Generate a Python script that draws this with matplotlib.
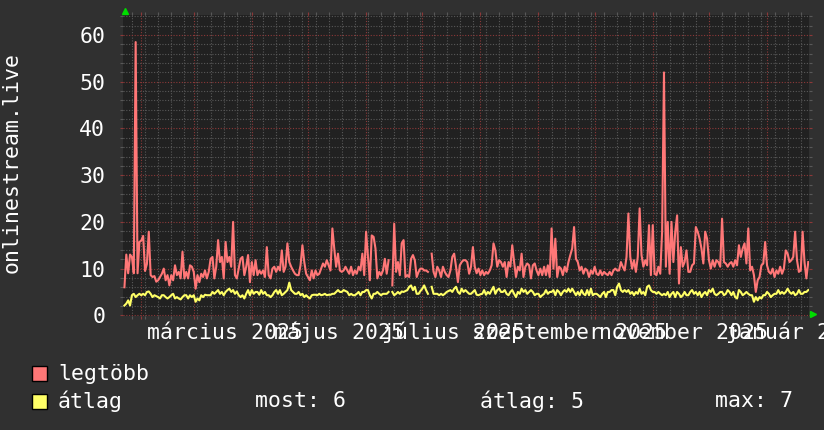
import numpy as np
import pandas as pd
import matplotlib
matplotlib.use("Agg")
import matplotlib.pyplot as plt
import matplotlib.dates as mdates
from matplotlib.transforms import blended_transform_factory
from matplotlib.patches import Rectangle

nan = np.nan

# daily values, starting 2025-01-23
start_date = "2025-01-23"
legtobb = [
    6, 13, 9, 13, 12.5, 9, 58.5, 9, 15.7, 16,
    17, 9.5, 11, 17.9, 8.6, 8.2, 8.4, 7.2, 7.5, 8.2,
    8.9, 10, 7.5, 8.6, 6.4, 8.6, 7.5, 10.7, 8.6, 9.3,
    7.9, 13.6, 7.9, 9.3, 7.9, 10.7, 10.4, 9.3, 5.7, 8.6,
    7.1, 8.9, 8.2, 9.6, 7.9, 9.3, 12.1, 12.5, 7.9, 10.4,
    16.1, 11.4, 12.5, 7.9, 15.7, 11.4, 12.5, 10.4, 20, 8.6,
    7.9, 10, 12.1, 12.5, 8.6, 10.4, 12.9, 7.1, 11.4, 8.6,
    11.8, 8.6, 9.6, 8.9, 9.6, 8.2, 14.6, 8.6, 7.9, 10,
    10.4, 9.3, 10.4, 9.6, 13.9, 9.3, 10.4, 15.4, 11.4, 10.4,
    9.6, 8.9, 8.6, 8.6, 10.7, 15, 11.4, 8.9, 8.2, 7.5,
    9.6, 7.9, 9.6, 8.6, 8.9, 10, 11.1, 10.4, 11.8, 10.7,
    9.6, 18.6, 14.3, 10.4, 13.2, 9.6, 9.3, 9.6, 10.4, 9.6,
    8.9, 10.4, 8.6, 9.6, 8.9, 10.4, 9.6, 13.2, 8.6, 17.9,
    12.5, 7.5, 17.1, 16.8, 14.3, 7.9, 9.3, 8.6, 9.6, 12.1,
    8.9, 11.8, nan, 6.4, 19.6, 9.3, 11.4, 8.6, 15.4, 16.1,
    8.2, 8.6, 8.2, 12.1, 12.9, 11.8, 8.2, 9.3, 10, 10,
    9.6, 9.6, 9.3, nan, 13.2, 9.3, 8.2, 10.4, 9.6, 8.2,
    10.4, 9.3, 8.6, 8.2, 9.6, 12.5, 13.2, 10.4, 7.1, 10.7,
    11.4, 11.8,
    11.8, 11.4, 8.9, 10.4, 14.6, 10.4, 9, 10, 8.6, 9.6,
    8.6, 9.3, 8.9, 9.6, 10.7, 15.4, 13.9, 10.4, 11.8, 11.4,
    10.4, 11.4, 8.2, 11.4, 10.4, 15, 11.4, 8.2, 10.4, 9.6,
    13.2, 8.2, 10.4, 11.1, 10.7, 7.9, 10.7, 11.1, 9.6, 8.6,
    10, 8.6, 10.4, 8.6, 10.7, 8.2, 18.6, 10, 16.4, 8.2,
    10.4, 10, 8.6, 10.4, 9.3, 11.4, 12.9, 14.3, 18.9, 12.1,
    11.4, 9.6, 10.4, 8.9, 10, 9.6, 8.2, 9.6, 8.9, 10.4,
    8.9, 8.6, 9.6, 8.6, 9.3, 8.9, 8.6, 9.3, 8.6, 9.6,
    10, 9.6, 9.6, 11.4, 10.4, 9.6, 12.5, 21.8, 12.5, 10,
    11.8, 9.3, 12.5, 22.9, 12.9, 10.4, 11.8, 10.7, 19.3, 8.6,
    19.3, 8.9, 8.6, 10.4, 8.9, 17.9, 52, 10.4, 20, 8.9,
    20, 11.4, 17.9, 21.4, 6.8, 14.6, 10.4, 11.4, 13.9, 9.3,
    9.3, 10.7, 11.1, 18.9, 17.9, 16.4, 14.3, 11.1, 17.9, 16.4,
    11.8, 10, 11.8, 10.4, 11.8, 11.4, 10.4, 20.7, 11.4, 11.1,
    10.4, 11.1, 11.4, 10.4, 11.8, 10.7, 15, 12.5, 14.3, 15.4,
    11.1, 18.6, 9.6, 10.4, 8.6, 5, 7.5, 8.2, 10.7, 11.1,
    15.7, 10.7, 9.3, 8.9, 10, 8.2, 9.6, 8.9, 10.4, 8.9,
    10, 13.9, 13.2, 11.4, 11.8, 12.5, 17.9, 11.8, 9.3, 9.6,
    17.9, 11.4, 7.9, 11.4,
]
atlag = [
    2.1, 2.5, 3.2, 2.1, 4.3, 4.6, 3.9, 4.3, 4.6, 4.3,
    4.6, 4.3, 5.0, 5.1, 4.6, 3.9, 4.3, 4.1, 3.9, 3.6,
    4.3, 4.3, 3.9, 3.6, 3.9, 4.3, 4.6, 3.6, 3.9, 3.6,
    3.4, 3.9, 4.3, 4.3, 3.6, 4.3, 3.9, 4.3, 2.9, 3.6,
    3.2, 4.3, 3.9, 4.4, 4.3, 4.3, 4.3, 5.0, 4.6, 5.0,
    5.4, 4.6, 5.0, 4.3, 5.0, 5.4, 5.7, 5.0, 5.4, 4.6,
    5.1, 4.3, 3.9, 4.3, 3.6, 4.6, 5.4, 4.3, 5.4, 4.6,
    5.0, 5.0, 4.4, 5.4, 4.6, 5.0, 4.3, 4.3, 3.9, 4.3,
    5.0, 5.4, 4.6, 5.4, 4.3, 4.6, 5.0, 5.4, 7.0, 5.4,
    5.0, 4.6, 4.6, 5.0, 4.3, 4.6, 3.9, 4.3, 3.9, 3.6,
    4.3, 4.4, 4.4, 4.3, 4.6, 4.3, 4.4, 4.6, 4.3, 4.4,
    4.4, 4.6, 4.6, 5.0, 5.4, 5.0, 5.0, 5.4, 5.2, 5.0,
    4.3, 4.6, 4.3, 4.3, 4.6, 5.0, 4.3, 5.0, 5.0, 5.4,
    5.4, 4.3, 3.6, 4.6, 4.6, 5.0, 4.6, 4.3, 4.6, 4.6,
    4.6, 5.0, nan, 5.0, 4.3, 4.6, 5.0, 4.6, 5.1, 5.0,
    5.2, 5.4, 6.1, 6.4, 5.4, 6.1, 4.6, 4.6, 5.2, 5.7,
    6.4, 5.4, 4.6, nan, 6.1, 4.6, 4.6, 4.6, 4.3, 4.6,
    4.3, 4.6, 5.0, 5.2, 5.4, 5.0, 5.7, 6.1, 5.0, 4.6,
    5.7, 5.0,
    5.4, 5.0, 4.6, 4.6, 5.0, 5.4, 4.4, 4.3, 4.5, 4.6,
    5.4, 4.4, 5.0, 4.6, 5.4, 6.1, 4.6, 5.4, 5.7, 5.0,
    5.0, 5.4, 4.6, 4.3, 5.0, 5.4, 4.6, 3.9, 5.0, 4.6,
    5.7, 5.0, 5.4, 4.6, 5.0, 5.4, 5.0, 4.3, 4.6, 4.6,
    3.9, 4.3, 4.6, 5.4, 4.6, 5.0, 5.0, 5.4, 4.3, 5.4,
    5.0, 4.3, 5.0, 5.4, 5.0, 5.7, 5.0, 5.7, 5.0, 4.3,
    5.0, 4.3, 5.4, 4.6, 4.3, 5.4, 4.3, 5.7, 4.3, 4.6,
    4.6, 4.3, 3.9, 4.6, 5.0, 3.9, 5.0, 5.0, 5.4, 5.4,
    4.3, 6.1, 6.8, 5.4, 5.0, 5.4, 5.0, 5.4, 4.6, 5.0,
    4.3, 5.0, 4.6, 5.7, 4.6, 5.0, 4.3, 6.1, 6.4, 5.4,
    5.0, 5.0, 4.6, 5.0, 4.6, 4.3, 4.6, 4.3, 5.0, 3.9,
    4.6, 5.0, 3.9, 5.0, 4.6, 3.9, 4.3, 5.0, 4.3, 4.3,
    5.0, 5.4, 4.6, 5.0, 4.3, 5.0, 3.9, 4.6, 5.0, 4.3,
    5.4, 5.0, 5.7, 4.6, 4.3, 4.6, 5.0, 5.0, 4.3, 4.6,
    5.4, 5.0, 4.3, 5.0, 3.9, 3.6, 5.4, 5.0, 4.3, 4.6,
    5.0, 4.6, 4.3, 4.3, 2.9, 3.9, 3.2, 3.9, 3.6, 4.3,
    4.3, 5.0, 4.6, 3.9, 4.3, 4.6, 4.6, 5.4, 4.6, 5.0,
    4.6, 5.0, 5.7, 5.0, 4.6, 5.0, 4.3, 4.6, 5.4, 4.6,
    4.6, 5.0, 5.0, 5.4,
]

month_labels = ["március 2025", "május 2025", "július 2025",
                "szeptember 2025", "november 2025", "január 2026"]
label_months = ["2025-03-01", "2025-05-01", "2025-07-01",
                "2025-09-01", "2025-11-01", "2026-01-01"]
legend_names = ["legtöbb", "átlag"]
stats = ["most: 6", "átlag: 5", "max: 7"]

bg = "#303030"
plot_bg = "#212121"
red = "#ff7777"
yellow = "#ffff66"
fs = 15.5

plt.rcParams["font.family"] = ["DejaVu Sans Mono"]

days = pd.date_range(start_date, periods=len(legtobb), freq="D")

fig = plt.figure(figsize=(8.24, 4.30), dpi=100, facecolor=bg)
ax = fig.add_axes([123.3 / 824, 1 - 316 / 430, (809 - 123.3) / 824, 301 / 430])
ax.set_facecolor(plot_bg)

ax.plot(days, legtobb, color=red, lw=1.5, zorder=3)
ax.plot(days, atlag, color=yellow, lw=1.5, zorder=4)

ax.set_xlim(pd.Timestamp(start_date) - pd.Timedelta(days=0.6),
            pd.Timestamp(start_date) + pd.Timedelta(days=365.4))
ax.set_ylim(-0.15, 64.3)

ax.xaxis.set_major_locator(mdates.MonthLocator())
ax.xaxis.set_minor_locator(mdates.WeekdayLocator(byweekday=mdates.MO))
ax.yaxis.set_major_locator(plt.MultipleLocator(10))
ax.yaxis.set_minor_locator(plt.MultipleLocator(2))

ax.set_axisbelow(True)
ax.grid(which="minor", color="#585858", lw=0.8, ls=(0, (1, 1.5)))
ax.grid(which="major", color="#8c3838", lw=0.8, ls=(0, (1, 1.5)))

ax.tick_params(which="minor", length=2, width=0.8, color="#585858",
               direction="out", top=True, right=True)
ax.tick_params(which="major", length=2, width=0.8, color="#8c3838",
               direction="out", top=True, right=True)
ax.tick_params(axis="x", which="both", labelbottom=False)
ax.tick_params(axis="y", which="major", labelsize=fs, labelcolor="white", pad=11)
for s in ax.spines.values():
    s.set_visible(False)

trans = blended_transform_factory(ax.transData, ax.transAxes)
for lab, m in zip(month_labels, label_months):
    ax.text(pd.Timestamp(m) + pd.Timedelta(days=16.5), -0.0764, lab,
            transform=trans, ha="center", va="baseline", fontsize=fs,
            color="white", clip_on=False)

# green arrows at the axis ends
ax.plot([0.002], [1.014], marker="^", color="#00dd00", ms=4.5,
        transform=ax.transAxes, clip_on=False)
ax.plot([1.006], [0.005], marker=">", color="#00dd00", ms=4.5,
        transform=ax.transAxes, clip_on=False)

fig.text(12 / 824, 1 - 163 / 430, "onlinestream.live", rotation=90,
         ha="center", va="center", fontsize=fs, color="white")

# legend
for i, (name, col) in enumerate(zip(legend_names, [red, yellow])):
    yc = 373.5 + 27.5 * i
    fig.add_artist(Rectangle((32 / 824, 1 - (yc + 7.5) / 430), 15 / 824, 15 / 430,
                             transform=fig.transFigure, facecolor=col,
                             edgecolor="black", lw=1))
    fig.text(58 / 824, 1 - yc / 430, name, ha="left", va="center",
             fontsize=fs, color="white")
for txt, x in zip(stats, [255, 480, 715]):
    fig.text(x / 824, 1 - 401 / 430, txt, ha="left", va="center",
             fontsize=fs, color="white")

fig.savefig("out.png", dpi=100, facecolor=bg)
